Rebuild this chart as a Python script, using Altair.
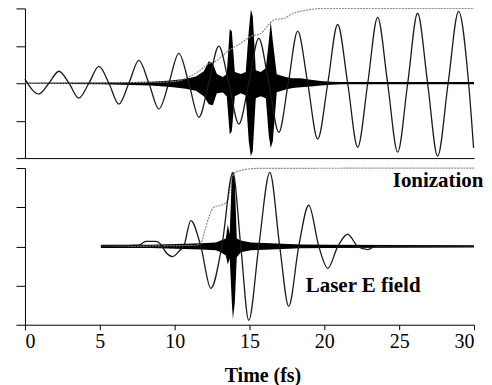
import altair as alt
import pandas as pd

FONT = "Liberation Serif"

# ---------------- top panel ----------------
top_laser_t = [0.00, 0.93, 1.60, 2.27, 2.94, 3.60, 4.27, 4.94, 5.61, 6.27, 6.94, 7.61,
               8.28, 8.95, 9.61, 10.28, 10.95, 11.62, 12.28, 12.95, 13.62, 14.29, 14.95,
               15.62, 16.29, 16.96, 17.59, 18.22, 18.89, 19.56, 20.23, 20.89, 21.56, 22.23,
               22.90, 23.56, 24.23, 24.90, 25.57, 26.23, 26.90, 27.57, 28.27, 28.97, 29.64, 29.97]
top_laser_e = [0.11, -0.29, 0.0, 0.32, 0.0, -0.40, 0.0, 0.45, 0.0, -0.56, 0.0, 0.61,
               0.0, -0.69, 0.0, 0.80, 0.0, -0.91, 0.0, 0.99, 0.0, -1.09, 0.0,
               1.20, 0.0, -1.31, 0.0, 1.39, 0.0, -1.49, 0.0, 1.57, 0.0, -1.71,
               0.0, 1.76, 0.0, -1.84, 0.0, 1.87, 0.0, -1.95, 0.0, 1.92, 0.0, -1.73]

top_ion_t = [0.0, 9.08, 10.08, 10.88, 11.62, 12.22, 12.75, 13.22, 13.75, 14.42, 15.09,
             15.75, 16.29, 16.76, 17.29, 17.76, 18.76, 20.09, 30.0]
top_ion_v = [0.0, 0.03, 0.05, 0.16, 0.32, 0.51, 0.59, 0.75, 0.91, 1.07, 1.25,
             1.33, 1.57, 1.71, 1.73, 1.84, 1.95, 2.0, 2.0]

top_emit_t = [0.0, 5.07, 8.41, 9.75, 10.75, 11.42, 11.95, 12.28, 12.55, 12.82, 13.22,
              13.48, 13.68, 13.82, 14.02, 14.42, 14.75, 14.95, 15.09, 15.22, 15.42,
              15.75, 16.09, 16.29, 16.42, 16.56, 16.82, 17.42, 17.89, 18.42, 19.09,
              19.76, 20.43, 21.09, 30.0]
top_emit_hi = [0.015, 0.02, 0.04, 0.07, 0.12, 0.18, 0.32, 0.59, 0.53, 0.25, 0.17,
               0.25, 1.44, 1.39, 0.30, 0.25, 0.30, 1.39, 1.97, 1.79, 0.35,
               0.30, 0.40, 1.12, 1.65, 1.12, 0.24, 0.17, 0.13, 0.13, 0.09,
               0.06, 0.04, 0.03, 0.03]
top_emit_lo = [-0.015, -0.03, -0.06, -0.10, -0.15, -0.20, -0.35, -0.56, -0.59, -0.27, -0.25,
               -0.35, -1.36, -1.28, -0.35, -0.27, -0.33, -1.55, -1.95, -1.81, -0.40,
               -0.35, -0.40, -1.41, -1.73, -1.55, -0.24, -0.17, -0.13, -0.11, -0.09,
               -0.06, -0.04, -0.03, -0.03]

# ---------------- bottom panel ----------------
bot_laser_t = [5.07, 7.61, 8.08, 8.75, 9.08, 9.41, 9.88, 10.35, 10.61, 11.08, 11.75,
               12.42, 13.15, 13.89, 14.42, 14.95, 15.62, 16.36, 17.02, 17.62, 18.29,
               18.96, 19.63, 20.23, 20.90, 21.56, 22.23, 22.90, 23.43, 30.0]
bot_laser_e = [0.0, 0.03, 0.13, 0.13, 0.05, -0.15, -0.26, -0.10, 0.0, 0.66, 0.0,
               -1.07, 0.0, 1.89, 0.0, -1.89, 0.0, 1.89, 0.0, -1.53, 0.0,
               1.05, 0.0, -0.56, 0.0, 0.31, 0.0, -0.08, 0.0, 0.0]

bot_ion_t = [5.07, 11.42, 11.75, 12.02, 12.28, 12.62, 13.22, 13.55, 13.75, 13.95,
             14.42, 15.42, 30.0]
bot_ion_v = [0.0, 0.03, 0.08, 0.41, 0.74, 1.00, 1.07, 1.17, 1.63, 1.86,
             1.94, 1.99, 2.0]

bot_emit_t = [5.07, 8.41, 11.75, 12.75, 13.08, 13.42, 13.55, 13.68, 13.82, 13.89,
              14.02, 14.15, 14.42, 15.09, 16.42, 18.42, 20.43, 30.0]
bot_emit_hi = [0.04, 0.04, 0.08, 0.10, 0.15, 0.20, 0.56, 0.31, 1.84, 1.89,
               1.68, 0.20, 0.15, 0.10, 0.08, 0.05, 0.04, 0.03]
bot_emit_lo = [-0.04, -0.04, -0.08, -0.10, -0.15, -0.23, -0.46, -0.31, -1.43, -1.86,
               -1.43, -0.28, -0.15, -0.10, -0.08, -0.05, -0.04, -0.03]

x_ticks = [0, 5, 10, 15, 20, 25, 30]
y_ticks = [-2, -1, 0, 1, 2]

labels = pd.DataFrame({
    "t": [24.57, 18.76],
    "v": [1.505, -1.17],
    "text": ["Ionization", "Laser E field"],
})

W = 450
xscale = alt.Scale(domain=[0, 30], nice=False, zero=False)
yscale = alt.Scale(domain=[-2, 2], nice=False)

yaxis = alt.Axis(values=y_ticks, labels=False, title=None, tickSize=9, grid=False,
                 domainColor="black", tickColor="black", tickWidth=1, domainWidth=1)

def panel(laser_t, laser_e, ion_t, ion_v, em_t, em_hi, em_lo, xaxis, height):
    laser = pd.DataFrame({"t": laser_t, "v": laser_e})
    ion = pd.DataFrame({"t": ion_t, "v": ion_v})
    em = pd.DataFrame({"t": em_t, "hi": em_hi, "lo": em_lo})
    x = alt.X("t:Q", scale=xscale, axis=xaxis)
    em_layer = alt.Chart(em).mark_area(color="black", interpolate="linear").encode(
        x=x, y=alt.Y("hi:Q", scale=yscale, axis=yaxis), y2="lo:Q")
    ion_layer = alt.Chart(ion).mark_line(color="#8c8c8c", strokeWidth=1.2,
                                         strokeDash=[2, 1], interpolate="monotone").encode(
        x=x, y=alt.Y("v:Q", scale=yscale, axis=yaxis))
    laser_layer = alt.Chart(laser).mark_line(color="#1a1a1a", strokeWidth=1.3,
                                             interpolate="monotone").encode(
        x=x, y=alt.Y("v:Q", scale=yscale, axis=yaxis))
    return alt.layer(em_layer, ion_layer, laser_layer).properties(width=W, height=height)

top_xaxis = alt.Axis(labels=False, ticks=False, title=None, grid=False,
                     domainColor="black", domainWidth=1)
bot_xaxis = alt.Axis(values=x_ticks, title="Time (fs)", grid=False, tickSize=5,
                     labelPadding=2, labelFont=FONT, labelFontSize=20, labelColor="black",
                     labelFontWeight="normal", titleFont=FONT, titleFontSize=20,
                     titleFontWeight="bold", titleColor="black", titleX=238, titleY=57,
                     titleBaseline="alphabetic", domainColor="black", tickColor="black")

top = panel(top_laser_t, top_laser_e, top_ion_t, top_ion_v,
            top_emit_t, top_emit_hi, top_emit_lo, top_xaxis, 150)

bottom_base = panel(bot_laser_t, bot_laser_e, bot_ion_t, bot_ion_v,
                    bot_emit_t, bot_emit_hi, bot_emit_lo, bot_xaxis, 157)

text_layer = alt.Chart(labels).mark_text(font=FONT, fontSize=21, fontWeight="bold",
                                         color="black", align="left",
                                         baseline="alphabetic").encode(
    x=alt.X("t:Q", scale=xscale, axis=bot_xaxis),
    y=alt.Y("v:Q", scale=yscale, axis=yaxis),
    text="text:N")

bottom = alt.layer(bottom_base, text_layer)

chart = alt.vconcat(top, bottom, spacing=6).properties(
    padding={"left": 7, "top": -3, "right": 0, "bottom": 0},
    background="white",
).configure_view(stroke=None)

chart.save("out.html", embed_options={"renderer": "svg", "actions": False})
